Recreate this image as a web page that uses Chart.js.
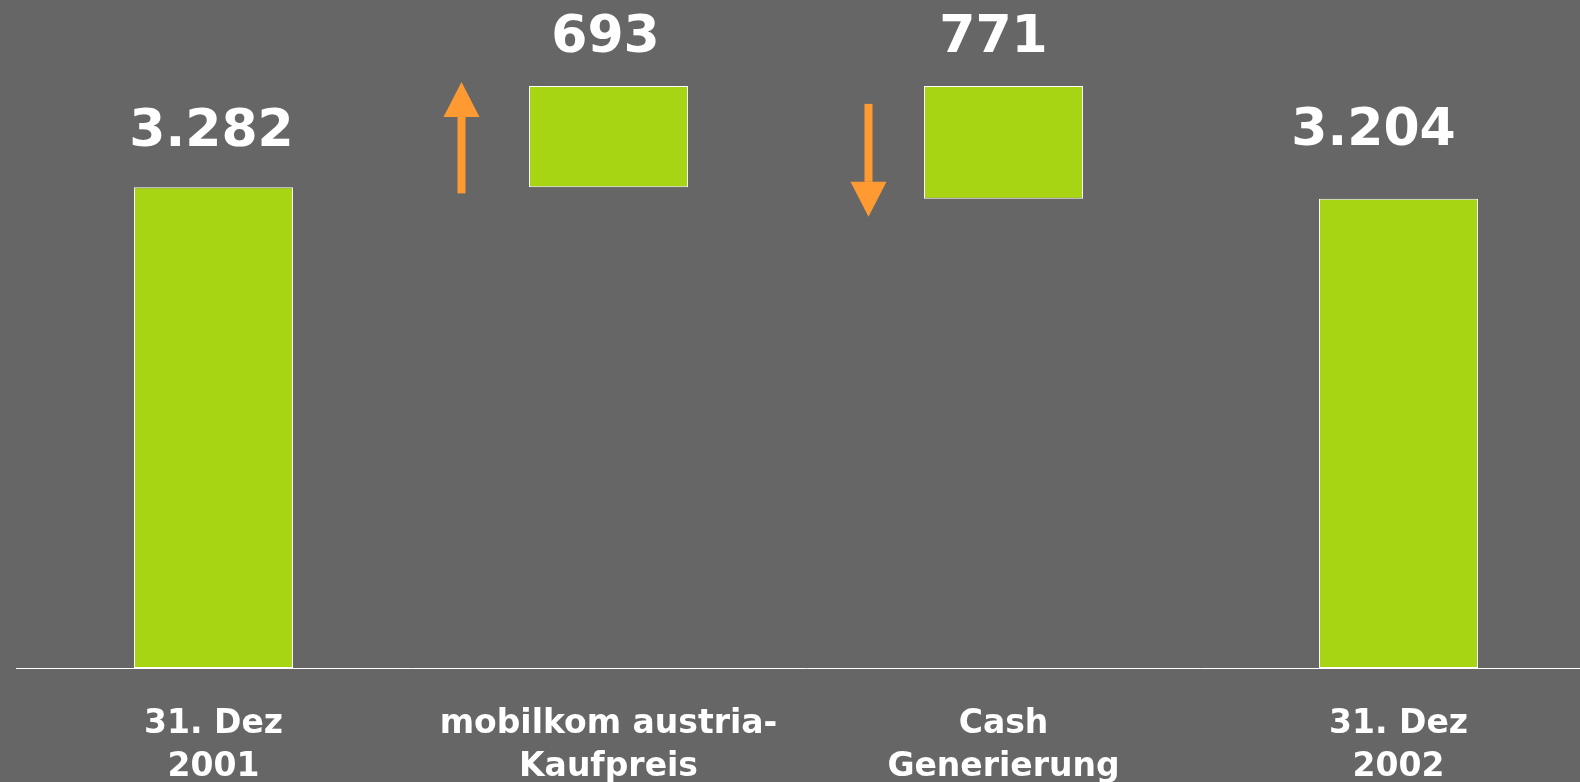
<!DOCTYPE html>
<html>
<head>
<meta charset="utf-8">
<script src="https://cdn.jsdelivr.net/npm/chart.js@4/dist/chart.umd.min.js"></script>
<style>
  html, body { margin: 0; padding: 0; background: #666666; overflow: hidden; }
  canvas { display: block; }
</style>
</head>
<body>
<canvas id="netDebtChart" width="1596" height="782"></canvas>
<script>
// Kategorien (zweizeilig) und Werte in Mio. EUR
const categories = [
    ['31. Dez', '2001'],
    ['mobilkom austria-', 'Kaufpreis'],
    ['Cash', 'Generierung'],
    ['31. Dez', '2002']
];
const startValue = 3282;   // 31. Dez 2001
const purchasePrice = 693; // mobilkom austria-Kaufpreis (+)
const cashGeneration = 771; // Cash Generierung (-)
const endValue = 3204;     // 31. Dez 2002

// Wasserfall: schwebende Balken aus den Werten oben
const peak = startValue + purchasePrice;
const floatingBars = [
    [0, startValue],
    [startValue, peak],
    [peak - cashGeneration, peak],
    [0, endValue]
];
const valueLabels = [startValue, purchasePrice, cashGeneration, endValue];

const green = '#a8d513';
const orange = '#ff9a33';
const fontFamily = '"DejaVu Sans", Verdana, sans-serif';

// Beschriftung ueber den Balken
const valueLabelPlugin = {
    id: 'valueLabels',
    afterDatasetsDraw(chart) {
        const ctx = chart.ctx;
        const meta = chart.getDatasetMeta(0);
        const offsets = [41, 34, 34, 54];
        const shifts = [-2, -3, -10, -25];
        ctx.save();
        ctx.fillStyle = '#ffffff';
        ctx.font = 'bold 52px ' + fontFamily;
        ctx.textAlign = 'center';
        ctx.textBaseline = 'alphabetic';
        meta.data.forEach((bar, i) => {
            const top = Math.min(bar.y, bar.base);
            ctx.fillText(valueLabels[i].toLocaleString('de-DE'), bar.x + shifts[i], top - offsets[i]);
        });
        ctx.restore();
    }
};

function drawArrow(ctx, x, yFrom, yTo) {
    const dir = yTo < yFrom ? -1 : 1;
    const headLen = 35, headHalf = 18, shaft = 8;
    const headBase = yTo - dir * headLen;
    ctx.fillRect(x - shaft / 2, Math.min(yFrom, headBase), shaft, Math.abs(headBase - yFrom));
    ctx.beginPath();
    ctx.moveTo(x - headHalf, headBase);
    ctx.lineTo(x + headHalf, headBase);
    ctx.lineTo(x, yTo);
    ctx.closePath();
    ctx.fill();
}

// Orange Pfeile neben den Veraenderungsbalken
const arrowPlugin = {
    id: 'arrows',
    afterDatasetsDraw(chart) {
        const ctx = chart.ctx;
        const xs = chart.scales.x;
        const ys = chart.scales.y;
        ctx.save();
        ctx.fillStyle = orange;
        drawArrow(ctx, xs.getPixelForValue(1) - 147, ys.getPixelForValue(startValue) + 6, ys.getPixelForValue(peak) - 4);
        drawArrow(ctx, xs.getPixelForValue(2) - 135, ys.getPixelForValue(peak) + 18, ys.getPixelForValue(endValue) + 18);
        ctx.restore();
    }
};

const ctx = document.getElementById('netDebtChart').getContext('2d');
new Chart(ctx, {
    type: 'bar',
    data: {
        labels: categories,
        datasets: [{
            data: floatingBars,
            backgroundColor: green,
            borderColor: '#ffffff',
            borderWidth: 1,
            borderSkipped: false,
            barPercentage: 0.4025,
            categoryPercentage: 1
        }]
    },
    options: {
        responsive: false,
        animation: false,
        layout: { padding: { left: 16, right: 0, top: 9, bottom: 0 } },
        plugins: {
            legend: { display: false },
            tooltip: { enabled: false }
        },
        scales: {
            x: {
                grid: { display: false },
                border: { display: true, color: '#ffffff', width: 1 },
                ticks: {
                    color: '#ffffff',
                    padding: 27,
                    maxRotation: 0,
                    autoSkip: false,
                    font: { family: fontFamily, size: 33, weight: 'bold', lineHeight: 1.3 }
                },
                afterFit(scale) { scale.height = 114; }
            },
            y: {
                display: false,
                min: 0,
                max: 4500
            }
        }
    },
    plugins: [valueLabelPlugin, arrowPlugin]
});
</script>
</body>
</html>
